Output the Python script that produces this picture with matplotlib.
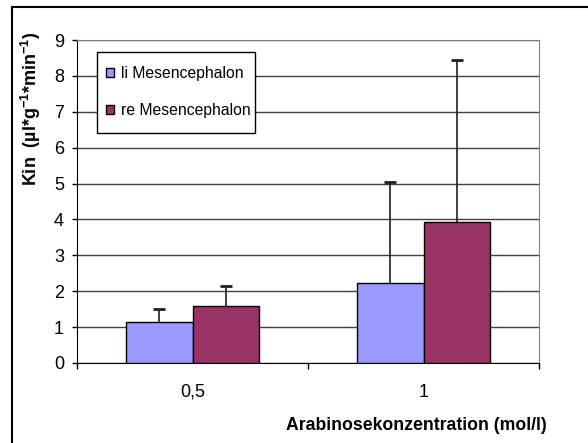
import matplotlib
matplotlib.use("Agg")
import matplotlib.pyplot as plt
from matplotlib.lines import Line2D
from matplotlib.patches import Rectangle

plt.rcParams['font.family'] = ['Liberation Sans', 'DejaVu Sans']
plt.rcParams['mathtext.fontset'] = 'custom'
plt.rcParams['mathtext.rm'] = 'Liberation Sans'
plt.rcParams['mathtext.bf'] = 'Liberation Sans:bold'

# data
categories = ['0,5', '1']
series_names = ['li Mesencephalon', 're Mesencephalon']
li_values = [1.13, 2.23]
li_err = [0.37, 2.81]
re_values = [1.58, 3.93]
re_err = [0.56, 4.51]
colors = ['#9999FF', '#993366']

fig = plt.figure(figsize=(5.88, 4.43), dpi=100)
ax = fig.add_axes([0.131, 0.1806, 0.7857, 0.7291])

bar_w = 0.286
centers = [i + 0.5 for i in range(len(categories))]
pos_li = [c - bar_w / 2 for c in centers]
pos_re = [c + bar_w / 2 for c in centers]

ax.bar(pos_li, li_values, bar_w, color=colors[0], edgecolor='black', linewidth=1,
       label=series_names[0], zorder=3)
ax.bar(pos_re, re_values, bar_w, color=colors[1], edgecolor='black', linewidth=1,
       label=series_names[1], zorder=3)

# upward-only error bars with a single cap at the top
for pos, vals, errs in [(pos_li, li_values, li_err), (pos_re, re_values, re_err)]:
    tops = [v + e for v, e in zip(vals, errs)]
    ax.vlines(pos, vals, tops, color='#202020', linewidth=1.2, zorder=4)
    ax.plot(pos, tops, linestyle='none', marker='_', markersize=9, markeredgewidth=2,
            color='#202020', zorder=4)

ax.set_xlim(0, len(categories))
ax.set_ylim(0, 9)
ax.set_yticks(range(10))
ax.yaxis.grid(True, color='#404040', linewidth=1)
ax.set_axisbelow(True)

# ticks at category boundaries, labels at centres
ax.set_xticks(range(len(categories) + 1))
ax.set_xticklabels([''] * (len(categories) + 1))
ax.set_xticks(centers, minor=True)
ax.set_xticklabels(categories, minor=True)
ax.tick_params(axis='x', which='major', length=4, width=1, direction='out')
ax.tick_params(axis='x', which='minor', length=0, pad=15, labelsize=13)
ax.tick_params(axis='y', length=3.3, width=1, pad=6, labelsize=13)

ax.spines['left'].set_color('black')
ax.spines['bottom'].set_color('black')
ax.spines['top'].set_color('#808080')
ax.spines['right'].set_color('#808080')

# legend box drawn separately so its padding can match the original
ax.add_patch(Rectangle((97 / 588, 1 - 133 / 443), 158 / 588, 81 / 443,
                       transform=fig.transFigure, facecolor='white', edgecolor='black',
                       linewidth=1, zorder=5, clip_on=False))
leg = ax.legend(loc='upper left', bbox_to_anchor=(106 / 588, 1 - 66 / 443), bbox_transform=fig.transFigure,
                fontsize=11.3, frameon=False, handlelength=0.5, handleheight=0.5,
                handletextpad=0.45, labelspacing=1.4, borderpad=0, borderaxespad=0)
leg.set_zorder(6)
for h in leg.legend_handles:
    h.set_linewidth(1)

fig.text(0.052, 0.754, r'Kin  (µl*g$^{\mathbf{-1}}$*min$^{\mathbf{-1}}$)', rotation=90,
         ha='center', va='center', fontsize=13, fontweight='bold')
fig.text(0.930, 0.0406, 'Arabinosekonzentration (mol/l)', ha='right', va='center',
         fontsize=12.7, fontweight='bold')

# outer chart frame (only top and left edges visible)
fig.add_artist(Line2D([0.0204, 1.0], [0.984, 0.984], transform=fig.transFigure, color='black', linewidth=1.5))
fig.add_artist(Line2D([0.0204, 0.0204], [0.0, 0.984], transform=fig.transFigure, color='black', linewidth=1.5))

fig.savefig('out.png', dpi=100)
